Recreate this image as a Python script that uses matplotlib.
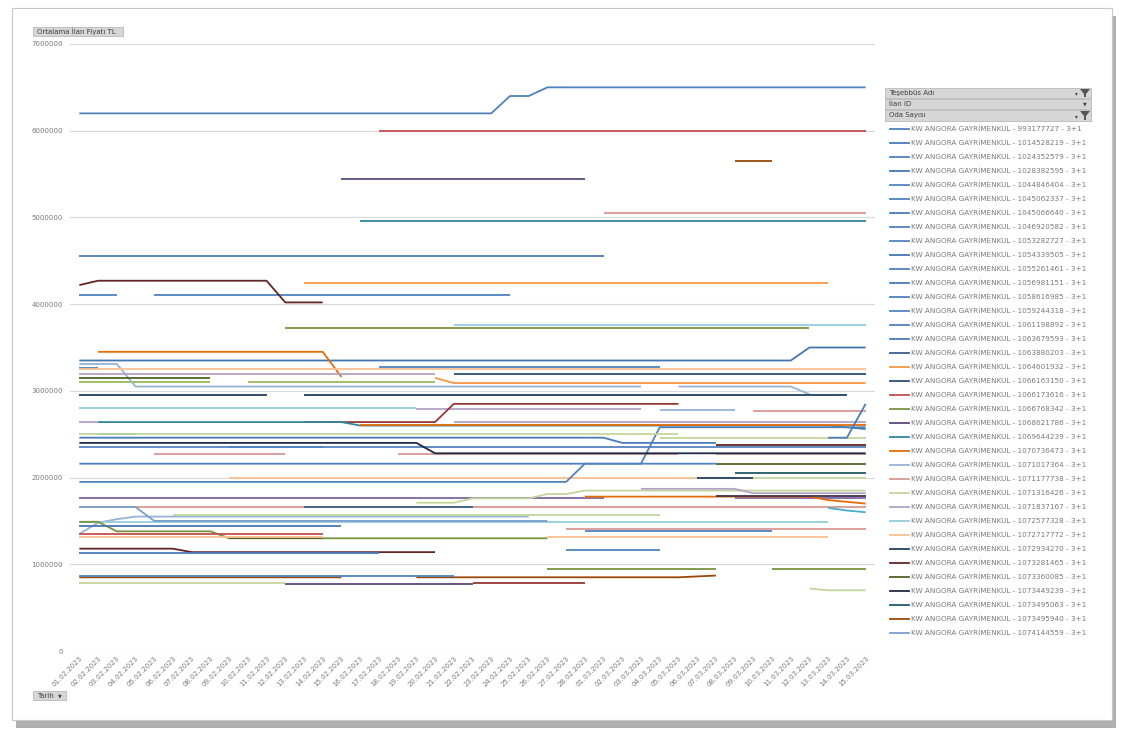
import numpy as np
import matplotlib.pyplot as plt
from matplotlib.lines import Line2D
from matplotlib.patches import Rectangle, Polygon

plt.rcParams['font.family'] = ['DejaVu Sans']

N = None

# tarih ekseni: 01.02.2023 - 15.03.2023
dates = ['%02d.02.2023' % d for d in range(1, 29)] + ['%02d.03.2023' % d for d in range(1, 16)]

# lejantta görünen seriler (ilan fiyatı, TL)
kw_993177727 = [6200000] * 23 + [6400000] * 2 + [6500000] * 18
kw_1014528219 = [4550000] * 29 + [N] * 14
kw_1024352579 = [4100000] * 3 + [N] + [4100000] * 20 + [N] * 19
kw_1028382595 = [3350000] * 39 + [3500000] * 4
kw_1044846404 = [2350000] * 43
kw_1045062337 = [3260000] * 2 + [N] * 14 + [3280000] * 16 + [N] * 11
kw_1045066640 = [2460000] * 29 + [2400000] * 6 + [N] * 8
kw_1046920582 = [2160000] * 31 + [2580000] * 12
kw_1053282727 = [1950000] * 27 + [2160000] * 8 + [N] * 8
kw_1054339505 = [1440000] * 15 + [N] * 28
kw_1055261461 = [N] * 27 + [1380000] * 11 + [N] * 5
kw_1056981151 = [1130000] * 17 + [N] * 26
kw_1058616985 = [N] * 26 + [1160000] * 6 + [N] * 11
kw_1059244318 = [870000] * 21 + [N] * 22
kw_1061198892 = [N] + [2500000] * 3 + [N] * 4 + [2350000] * 6 + [N] * 29
kw_1063679593 = [N] * 40 + [2460000] * 2 + [2850000]
kw_1063880203 = [N] * 12 + [1660000] * 10 + [N] * 21
kw_1064601932 = [N] * 12 + [4240000] * 29 + [N] * 2
kw_1066163150 = [N] * 20 + [3190000] * 23
kw_1066173616 = [N] * 16 + [6000000] * 27
kw_1066768342 = [N] * 11 + [3730000] * 29 + [N] * 3
kw_1068621786 = [N] * 14 + [5440000] * 14 + [N] * 15
kw_1069644239 = [N] * 15 + [4960000] * 28
kw_1070736473 = [N] + [3450000] * 13 + [3160000] + [N] * 28
kw_1071017364 = [3310000] * 3 + [3050000] * 28 + [N] + [3050000] * 7 + [2960000] + [N] * 3
kw_1071177738 = [N] * 28 + [5050000] * 15
kw_1071316426 = [2500000] * 33 + [N] * 10
kw_1071837167 = [3200000] * 20 + [N] * 23
kw_1072577328 = [N] * 20 + [3760000] * 23
kw_1072717772 = [3250000] * 43
kw_1072934270 = [2950000] * 11 + [N] + [2950000] * 30 + [N]
kw_1073281465 = [4220000] + [4270000] * 10 + [4020000] * 3 + [N] * 29
kw_1073360085 = [3150000] * 8 + [N] * 35
kw_1073449239 = [2400000] * 19 + [2280000] * 24
kw_1073495063 = [N] * 35 + [2050000] * 8
kw_1073495940 = [N] * 35 + [5650000] * 3 + [N] * 5
kw_1074144559 = [1660000] * 4 + [1500000] * 22 + [N] * 17

# lejant dışında kalan diğer seriler
other_01 = [3100000] * 8 + [N] + [3100000] * 11 + [N] * 23
other_02 = [2800000] * 19 + [N] * 24
other_03 = [N] * 18 + [2790000] * 13 + [N] * 12
other_04 = [N] * 31 + [2780000] * 5 + [N] * 7
other_05 = [N] * 36 + [2770000] * 7
other_06 = [N] * 12 + [2640000] * 8 + [2850000] * 13 + [N] * 10
other_07 = [N] + [2640000] * 14 + [2600000] * 26 + [2580000, 2560000]
other_08 = [2640000] * 2 + [N] * 18 + [2640000] * 23
other_09 = [N] * 15 + [2610000] * 28
other_10 = [N] * 19 + [3150000] + [3090000] * 23
other_11 = [N] * 31 + [2460000] * 12
other_12 = [N] * 34 + [2380000] * 9
other_13 = [N] * 4 + [2270000] * 8 + [N] * 5 + [2270000] * 16 + [N] + [2270000] * 9
other_14 = [N] * 34 + [2160000] * 9
other_15 = [N] * 8 + [2000000] * 26 + [N] * 9
other_16 = [N] * 33 + [2000000] * 4 + [N] * 6
other_17 = [N] * 36 + [1990000] * 7
other_18 = [1760000] * 29 + [N] * 6 + [1760000] * 8
other_19 = [N] * 18 + [1710000] * 3 + [1760000] * 4 + [1810000] * 2 + [1850000] * 16
other_20 = [1660000] * 43
other_21 = [1350000, 1480000, 1520000] + [1550000] * 22 + [N] * 18
other_22 = [N] * 5 + [1570000] * 27 + [N] * 11
other_23 = [1490000] * 41 + [N] * 2
other_24 = [1490000] * 2 + [1380000] * 6 + [1300000] * 18 + [N] * 17
other_25 = [N] * 8 + [1300000] * 6 + [N] * 29
other_26 = [1350000] * 14 + [N] * 29
other_27 = [1320000] * 14 + [N] * 11 + [1320000] * 16 + [N] * 2
other_28 = [N] * 26 + [1410000] * 17
other_29 = [1180000] * 6 + [1140000] * 14 + [N] * 23
other_30 = [850000] * 15 + [N] * 3 + [850000] * 15 + [860000, 870000] + [N] * 8
other_31 = [780000] * 12 + [N] * 31
other_32 = [N] * 11 + [770000] * 11 + [N] * 21
other_33 = [N] * 21 + [780000] * 7 + [N] * 15
other_34 = [N] * 25 + [950000] * 10 + [N] * 2 + [950000] * 6
other_35 = [N] * 39 + [720000] + [700000] * 3
other_36 = [N] * 27 + [1780000] * 13 + [1740000, 1720000, 1700000]
other_37 = [N] * 34 + [1790000] * 9
other_38 = [N] * 30 + [1870000] * 6 + [1820000] * 7
other_39 = [N] * 40 + [1650000, 1620000, 1600000]

legend_ids = ['993177727', '1014528219', '1024352579', '1028382595', '1044846404',
              '1045062337', '1045066640', '1046920582', '1053282727', '1054339505',
              '1055261461', '1056981151', '1058616985', '1059244318', '1061198892',
              '1063679593', '1063880203', '1064601932', '1066163150', '1066173616',
              '1066768342', '1068621786', '1069644239', '1070736473', '1071017364',
              '1071177738', '1071316426', '1071837167', '1072577328', '1072717772',
              '1072934270', '1073281465', '1073360085', '1073449239', '1073495063',
              '1073495940', '1074144559']
legend_values = [kw_993177727, kw_1014528219, kw_1024352579, kw_1028382595, kw_1044846404,
                 kw_1045062337, kw_1045066640, kw_1046920582, kw_1053282727, kw_1054339505,
                 kw_1055261461, kw_1056981151, kw_1058616985, kw_1059244318, kw_1061198892,
                 kw_1063679593, kw_1063880203, kw_1064601932, kw_1066163150, kw_1066173616,
                 kw_1066768342, kw_1068621786, kw_1069644239, kw_1070736473, kw_1071017364,
                 kw_1071177738, kw_1071316426, kw_1071837167, kw_1072577328, kw_1072717772,
                 kw_1072934270, kw_1073281465, kw_1073360085, kw_1073449239, kw_1073495063,
                 kw_1073495940, kw_1074144559]
legend_colors = ['#4F81BD', '#4A7CB8', '#4F81BD', '#4676B0', '#5585C0',
                 '#4F81BD', '#4A7CB8', '#4F81BD', '#5383BE', '#4676B0',
                 '#4F81BD', '#4A7CB8', '#4F81BD', '#5585C0', '#4F81BD',
                 '#4A7CB8', '#3B5F8C', '#F79646', '#2C4D75', '#C0504D',
                 '#77933C', '#5F497A', '#31859C', '#E46C0A', '#95B3D7',
                 '#D99694', '#C3D69B', '#B3A2C7', '#93CDDD', '#FAC090',
                 '#243F60', '#632523', '#4F6228', '#1F2A44', '#215968',
                 '#984807', '#7BA0CD']

other_values = [other_01, other_02, other_03, other_04, other_05, other_06, other_07,
                other_08, other_09, other_10, other_11, other_12, other_13, other_14,
                other_15, other_16, other_17, other_18, other_19, other_20, other_21,
                other_22, other_23, other_24, other_25, other_26, other_27, other_28,
                other_29, other_30, other_31, other_32, other_33, other_34, other_35,
                other_36, other_37, other_38, other_39]
other_colors = ['#9BBB59', '#93CDDD', '#B3A2C7', '#95B3D7', '#D99694', '#953735', '#31859C',
                '#B3A2C7', '#E46C0A', '#F79646', '#C3D69B', '#632523', '#D99694', '#4F6228',
                '#FAC090', '#243F60', '#C3D69B', '#8064A2', '#C3D69B', '#D99694', '#95B3D7',
                '#C3D69B', '#93CDDD', '#77933C', '#4F6228', '#C0504D', '#FAC090', '#D99694',
                '#632523', '#984807', '#C3D69B', '#5F497A', '#953735', '#77933C', '#C3D69B',
                '#E46C0A', '#3F3151', '#B3A2C7', '#4BACC6']

W, H = 1125, 736
fig = plt.figure(figsize=(W / 100, H / 100), dpi=100)

def fx(px):
    return px / W

def fy(py):
    return 1 - py / H

# gölgeli grafik çerçevesi
fig.add_artist(Rectangle((fx(16), fy(728)), fx(1100) - fx(0), fy(8) - fy(720),
                         transform=fig.transFigure, facecolor='#B0B0B0', edgecolor='none', zorder=-2))
fig.add_artist(Rectangle((fx(12), fy(720)), fx(1100) - fx(0), fy(8) - fy(720),
                         transform=fig.transFigure, facecolor='white', edgecolor='#C8C8C8',
                         lw=0.8, zorder=-1))

ax = fig.add_axes([fx(70), fy(651), fx(875) - fx(70), fy(44) - fy(651)])
ax.set_zorder(1)
ax.set_facecolor('none')
x = np.arange(len(dates))

lines = []
for vals, col in zip(other_values, other_colors):
    ax.plot(x, np.array(vals, dtype=float), color=col, lw=1.3, solid_capstyle='butt')
for vals, col, lid in zip(legend_values, legend_colors, legend_ids):
    ln, = ax.plot(x, np.array(vals, dtype=float), color=col, lw=1.3, solid_capstyle='butt',
                  label='KW ANGORA GAYRİMENKUL - %s - 3+1' % lid)
    lines.append(ln)

ax.set_xlim(-0.5, len(dates) - 0.5)
ax.set_ylim(0, 7000000)
ax.set_yticks(np.arange(0, 7000001, 1000000))
ax.set_yticklabels(['%d' % v for v in np.arange(0, 7000001, 1000000)])
ax.yaxis.grid(True, color='#D9D9D9', lw=0.8)
ax.set_axisbelow(True)
ax.set_xticks(x)
ax.set_xticklabels(dates, rotation=45, ha='right', rotation_mode='anchor')
ax.tick_params(axis='both', length=0, labelsize=5, labelcolor='#7A7A7A')
ax.tick_params(axis='y', pad=5)
ax.tick_params(axis='x', pad=3)
for s in ax.spines.values():
    s.set_visible(False)

# alan düğmeleri
def button(x0, y0, x1, y1, text, arrow=None):
    fig.add_artist(Rectangle((fx(x0), fy(y1)), fx(x1) - fx(x0), fy(y0) - fy(y1),
                             transform=fig.transFigure, facecolor='#D6D6D6',
                             edgecolor='#B0B0B0', lw=0.5))
    fig.text(fx(x0 + 4), fy((y0 + y1) / 2), text, fontsize=5, color='#404040', va='center')
    if arrow == 'down':
        fig.text(fx(x1 - 4), fy((y0 + y1) / 2), '▼', fontsize=3.5, color='#404040',
                 va='center', ha='right')
    elif arrow == 'filter':
        fig.add_artist(Polygon([(fx(x1 - 11), fy(y0 + 1)), (fx(x1 - 1), fy(y0 + 1)),
                                (fx(x1 - 5), fy(y0 + 6)), (fx(x1 - 5), fy(y1 - 1)),
                                (fx(x1 - 7), fy(y1 - 1)), (fx(x1 - 7), fy(y0 + 6))],
                               closed=True, transform=fig.transFigure,
                               facecolor='#555555', edgecolor='none'))
        fig.text(fx(x1 - 13), fy((y0 + y1) / 2 + 1), '▾', fontsize=4, color='#404040',
                 va='center', ha='right')

button(33, 27, 123, 36, 'Ortalama İlan Fiyatı TL')
button(33, 691, 66, 700, 'Tarih', 'down')
button(885, 88, 1091, 98, 'Teşebbüs Adı', 'filter')
button(885, 99, 1091, 109, 'İlan ID', 'down')
button(885, 110, 1091, 121, 'Oda Sayısı', 'filter')

# lejant
for k, ln in enumerate(lines):
    yy = fy(129 + 14 * k)
    fig.add_artist(Line2D([fx(890), fx(909)], [yy, yy], color=ln.get_color(), lw=1.3,
                          transform=fig.transFigure))
    fig.text(fx(911), yy, ln.get_label(), fontsize=5.2, color='#7A7A7A', va='center')

fig.savefig('out.png', dpi=100)
